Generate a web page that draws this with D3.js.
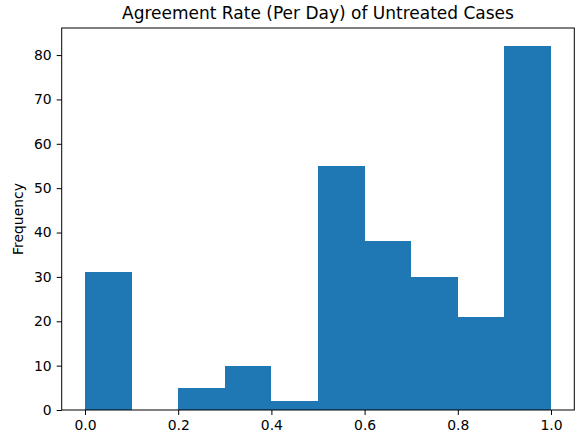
<!DOCTYPE html>
<html>
<head>
<meta charset="utf-8">
<script src="https://cdn.jsdelivr.net/npm/d3@7"></script>
<style>
  html, body { margin: 0; padding: 0; background: #fff; }
  svg { display: block; font-family: "DejaVu Sans", sans-serif; }
</style>
</head>
<body>
<svg id="chart" width="578" height="437"></svg>
<script>
// Histogram bins (agreement rate per day) and their counts
const binEdges = [0.0, 0.1, 0.2, 0.3, 0.4, 0.5, 0.6, 0.7, 0.8, 0.9, 1.0];
const counts = [31, 0, 5, 10, 2, 55, 38, 30, 21, 82];
const xTicks = [0.0, 0.2, 0.4, 0.6, 0.8, 1.0];
const yTicks = [0, 10, 20, 30, 40, 50, 60, 70, 80];
const titleText = "Agreement Rate (Per Day) of Untreated Cases";
const yLabel = "Frequency";

const svg = d3.select("#chart");
const plot = { left: 61.7, right: 574.3, top: 28, bottom: 410 };

const x = d3.scaleLinear().domain([-0.05, 1.05]).range([plot.left, plot.right]);
const yMax = d3.max(counts) * 1.05;
const y = d3.scaleLinear().domain([0, yMax]).range([plot.bottom, plot.top]);

const bins = counts.map((c, i) => ({ x0: binEdges[i], x1: binEdges[i + 1], n: c }));

svg.append("g")
  .attr("shape-rendering", "crispEdges")
  .selectAll("rect")
  .data(bins)
  .join("rect")
  .attr("x", d => x(d.x0))
  .attr("width", d => x(d.x1) - x(d.x0))
  .attr("y", d => y(d.n))
  .attr("height", d => y(0) - y(d.n))
  .attr("fill", "#1f77b4");

// Axes frame
svg.append("rect")
  .attr("x", plot.left).attr("y", plot.top)
  .attr("width", plot.right - plot.left).attr("height", plot.bottom - plot.top)
  .attr("fill", "none").attr("stroke", "#000").attr("stroke-width", 1);

const xAxis = svg.append("g")
  .attr("transform", `translate(0,${plot.bottom})`)
  .call(d3.axisBottom(x).tickValues(xTicks).tickFormat(d3.format(".1f")).tickSize(5).tickPadding(5));
const yAxis = svg.append("g")
  .attr("transform", `translate(${plot.left},0)`)
  .call(d3.axisLeft(y).tickValues(yTicks).tickFormat(d3.format("d")).tickSize(5).tickPadding(5));

[xAxis, yAxis].forEach(g => {
  g.select(".domain").remove();
  g.selectAll("text").attr("font-size", 13.9).attr("fill", "#000")
    .attr("font-family", "DejaVu Sans, sans-serif");
  g.selectAll("line").attr("stroke", "#000");
});

svg.append("text")
  .attr("x", (plot.left + plot.right) / 2)
  .attr("y", plot.top - 9)
  .attr("text-anchor", "middle")
  .attr("font-size", 17)
  .text(titleText);

svg.append("text")
  .attr("transform", `translate(23,${(plot.top + plot.bottom) / 2}) rotate(-90)`)
  .attr("text-anchor", "middle")
  .attr("font-size", 13.9)
  .text(yLabel);
</script>
</body>
</html>
